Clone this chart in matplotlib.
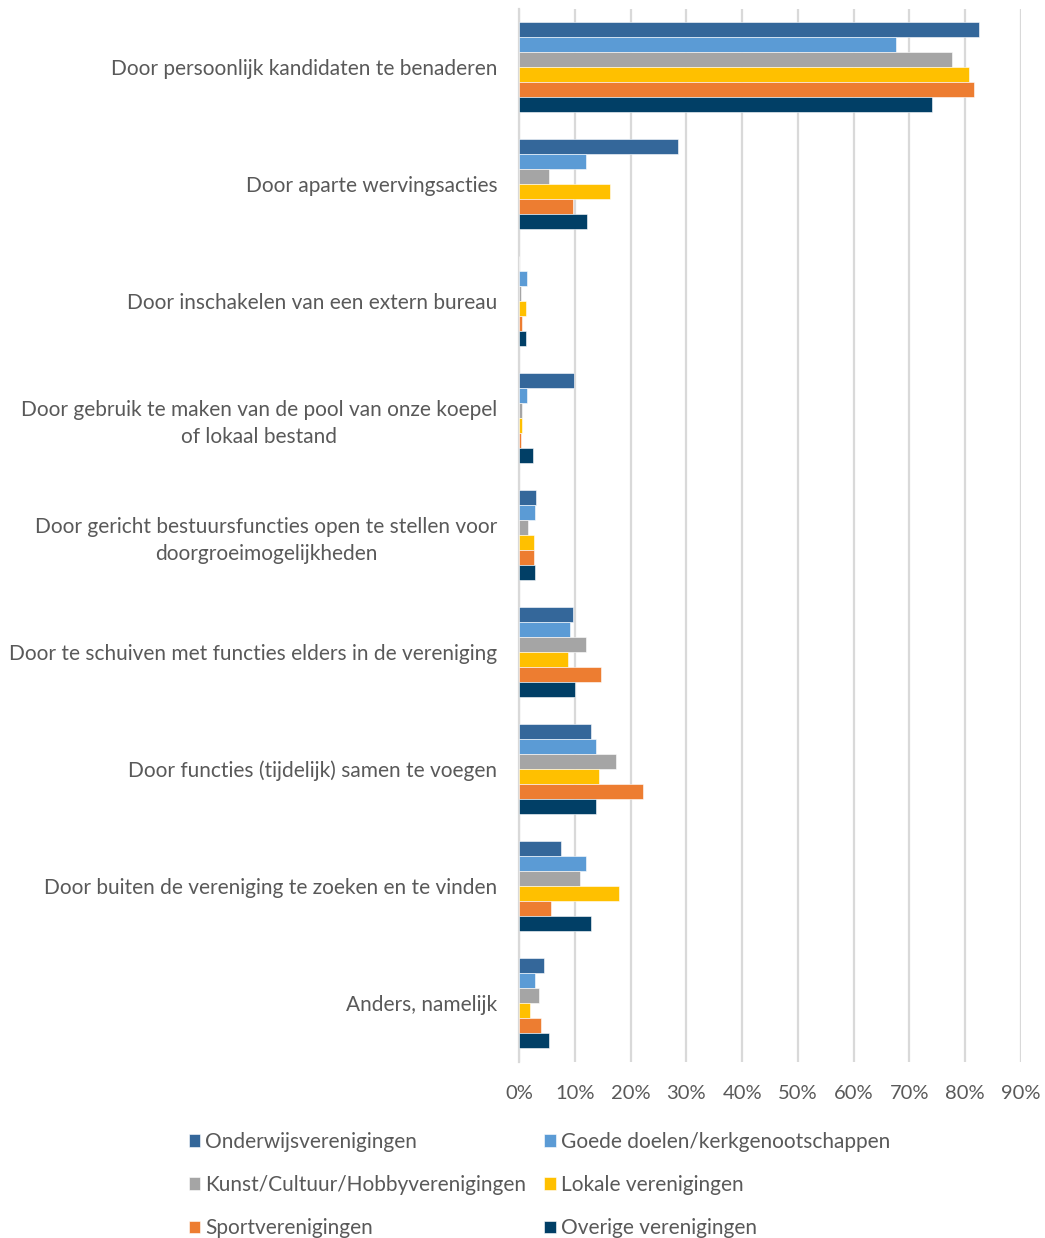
import matplotlib
matplotlib.use("Agg")
import matplotlib.pyplot as plt
import numpy as np
from matplotlib.ticker import FuncFormatter

categories = [
    "Door persoonlijk kandidaten te benaderen",
    "Door aparte wervingsacties",
    "Door inschakelen van een extern bureau",
    "Door gebruik te maken van de pool van onze koepel\nof lokaal bestand",
    "Door gericht bestuursfuncties open te stellen voor\ndoorgroeimogelijkheden",
    "Door te schuiven met functies elders in de vereniging",
    "Door functies (tijdelijk) samen te voegen",
    "Door buiten de vereniging te zoeken en te vinden",
    "Anders, namelijk",
]

series_names = [
    "Onderwijsverenigingen",
    "Goede doelen/kerkgenootschappen",
    "Kunst/Cultuur/Hobbyverenigingen",
    "Lokale verenigingen",
    "Sportverenigingen",
    "Overige verenigingen",
]

onderwijs = [82.4, 28.5, 0.0, 9.8, 3.1, 9.7, 12.9, 7.5, 4.4]
goede_doelen = [67.6, 12.0, 1.4, 1.4, 2.9, 9.1, 13.8, 12.0, 2.9]
kunst = [77.7, 5.4, 0.3, 0.5, 1.6, 12.0, 17.4, 10.9, 3.6]
lokale = [80.6, 16.3, 1.3, 0.5, 2.7, 8.8, 14.3, 17.9, 2.0]
sport = [81.5, 9.7, 0.5, 0.3, 2.7, 14.7, 22.2, 5.7, 4.0]
overige = [74.0, 12.2, 1.2, 2.5, 2.9, 10.0, 13.8, 12.9, 5.3]

colors = ["#34679a", "#5b9bd5", "#a5a5a5", "#ffc000", "#ed7d31", "#013f66"]

xticks = [0, 10, 20, 30, 40, 50, 60, 70, 80, 90]

all_series = [onderwijs, goede_doelen, kunst, lokale, sport, overige]

W, H = 1045, 1238
fig = plt.figure(figsize=(W / 100, H / 100), dpi=100)
plt.rcParams['font.family'] = ['Lato', 'DejaVu Sans']

left_px, right_px = 519, 1021
top_px, bot_px = 8.5, 1061.5
ax = fig.add_axes([left_px / W, 1 - bot_px / H, (right_px - left_px) / W, (bot_px - top_px) / H])

n = len(series_names)
bh = 15 / 117
y = np.arange(len(categories))
handles = []
for j, (vals, name, c) in enumerate(zip(all_series, series_names, colors)):
    b = ax.barh(y + (j - (n - 1) / 2) * bh, vals, height=bh, color=c, label=name,
                edgecolor="white", linewidth=0.4, zorder=3)
    handles.append(b)

ax.set_ylim(len(categories) - 0.5, -0.5)
ax.set_xlim(0, 90)
ax.set_xticks(xticks)
ax.xaxis.set_major_formatter(FuncFormatter(lambda v, p: f"{int(v)}%"))
ax.set_yticks(y)
ax.set_yticklabels(categories, multialignment="center", linespacing=1.45)
ax.tick_params(axis="y", length=0, pad=15.5, labelsize=15, labelcolor="#595959")
ax.tick_params(axis="x", length=0, pad=17, labelsize=14.5, labelcolor="#595959")
ax.grid(axis="x", color="#d9d9d9", linewidth=1.6, zorder=0)
for s in ["top", "right", "bottom"]:
    ax.spines[s].set_visible(False)
ax.spines["left"].set_color("#d9d9d9")
ax.spines["left"].set_linewidth(1.6)

order = [0, 2, 4, 1, 3, 5]
leg = fig.legend([handles[i] for i in order], [series_names[i] for i in order],
                 ncol=2, loc="upper left", bbox_to_anchor=(170 / W, 1 - 1113 / H),
                 frameon=False, fontsize=15, handlelength=0.55, handleheight=0.55,
                 handletextpad=0.25, labelspacing=1.12, columnspacing=0.85,
                 labelcolor="#595959")

fig.savefig("out.png", dpi=100)
